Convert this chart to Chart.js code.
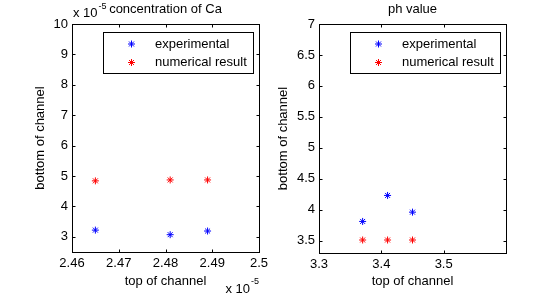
<!DOCTYPE html>
<html>
<head>
<meta charset="utf-8">
<script src="https://cdn.jsdelivr.net/npm/chart.js@4.4.0/dist/chart.umd.min.js"></script>
<style>
    html, body { margin: 0; padding: 0; background: #fff; }
    #wrap { position: relative; width: 560px; height: 294px; overflow: hidden; }
    canvas { position: absolute; top: 0; }
</style>
</head>
<body>
<div id="wrap">
    <canvas id="caChart" width="280" height="294" style="left:0"></canvas>
    <canvas id="phChart" width="300" height="294" style="left:260px"></canvas>
</div>
<script>
// left panel: concentration of Ca (both axes in units of 1e-5)
const caTop = [2.465, 2.481, 2.489];
const caExperimental = [3.22, 3.07, 3.19];
const caNumerical = [4.84, 4.87, 4.87];
const caXTicks = [2.46, 2.47, 2.48, 2.49, 2.5];
const caYTicks = [3, 4, 5, 6, 7, 8, 9, 10];

// right panel: ph value
const phTop = [3.37, 3.41, 3.45];
const phExperimental = [3.81, 4.23, 3.96];
const phNumerical = [3.51, 3.51, 3.51];
const phXTicks = [3.3, 3.4, 3.5];
const phYTicks = [3.5, 4, 4.5, 5, 5.5, 6, 6.5, 7];

const seriesNames = ['experimental', 'numerical result'];
const seriesColours = ['#0000ff', '#ff0000'];

const FONT = "'Liberation Sans', Arial, Helvetica, sans-serif";
const font13 = { family: FONT, size: 13, weight: 'normal', lineHeight: 1.2 };

function drawStar(ctx, x, y, r) {
    const d = r * Math.SQRT1_2;
    ctx.beginPath();
    ctx.moveTo(x - r, y); ctx.lineTo(x + r, y);
    ctx.moveTo(x, y - r); ctx.lineTo(x, y + r);
    ctx.moveTo(x - d, y - d); ctx.lineTo(x + d, y + d);
    ctx.moveTo(x - d, y + d); ctx.lineTo(x + d, y - d);
    ctx.stroke();
}

// MATLAB style box, inward ticks on all sides, legend inside, exponent labels
const matlabFrame = {
    id: 'matlabFrame',
    afterDatasetsDraw(chart, args, opts) {
        const { ctx, chartArea: a } = chart;
        const xs = chart.scales.x, ys = chart.scales.y;
        const L = Math.round(a.left) + 0.5, R = Math.round(a.right) + 0.5;
        const T = Math.round(a.top) + 0.5, B = Math.round(a.bottom) + 0.5;
        const tl = 3;
        ctx.save();
        ctx.strokeStyle = '#000';
        ctx.lineWidth = 1;
        ctx.strokeRect(L, T, R - L, B - T);
        ctx.beginPath();
        xs.ticks.forEach(t => {
            const px = Math.round(xs.getPixelForValue(t.value)) + 0.5;
            ctx.moveTo(px, B); ctx.lineTo(px, B - tl);
            ctx.moveTo(px, T); ctx.lineTo(px, T + tl);
        });
        ys.ticks.forEach(t => {
            const py = Math.round(ys.getPixelForValue(t.value)) + 0.5;
            ctx.moveTo(L, py); ctx.lineTo(L + tl, py);
            ctx.moveTo(R, py); ctx.lineTo(R - tl, py);
        });
        ctx.stroke();

        // legend
        ctx.font = '13px ' + FONT;
        const textW = Math.max(...seriesNames.map(s => ctx.measureText(s).width));
        const w = Math.round(51.5 + textW + 7);
        const bx = Math.round(a.right - 6 - w) + 0.5;
        const by = Math.round(a.top + 8) + 0.5;
        ctx.fillStyle = '#fff';
        ctx.fillRect(bx, by, w, 41);
        ctx.strokeRect(bx, by, w, 41);
        ctx.textBaseline = 'middle';
        ctx.textAlign = 'left';
        seriesNames.forEach((name, i) => {
            const ry = by + 11.5 + i * 18.5;
            ctx.strokeStyle = seriesColours[i];
            drawStar(ctx, bx + 28, ry, 3.5);
            ctx.fillStyle = '#000';
            ctx.fillText(name, bx + 51.5, ry);
        });

        if (opts.exponent) {
            ctx.fillStyle = '#000';
            ctx.textBaseline = 'alphabetic';
            // top-left, for the y axis
            ctx.font = '13px ' + FONT;
            ctx.textAlign = 'left';
            ctx.fillText('x 10', a.left + 1, 16.5);
            const w10 = ctx.measureText('x 10').width;
            ctx.font = '9px ' + FONT;
            ctx.fillText('-5', a.left + 1 + w10 + 1, 8.5);
            // bottom-right, for the x axis
            ctx.textAlign = 'right';
            const wExp = ctx.measureText('-5').width;
            ctx.fillText('-5', a.right, 284);
            ctx.font = '13px ' + FONT;
            ctx.fillText('x 10', a.right - wExp - 1, 292.5);
        }
        ctx.restore();
    }
};

function points(xs, ys) {
    return xs.map((v, i) => ({ x: v, y: ys[i] }));
}

function makePanel(id, p) {
    return new Chart(document.getElementById(id), {
        type: 'scatter',
        data: {
            datasets: [p.exp, p.num].map((ys, i) => ({
                label: seriesNames[i],
                data: points(p.xs, ys),
                pointStyle: 'star',
                pointRadius: 3.5,
                pointBorderWidth: 1,
                borderColor: seriesColours[i],
                backgroundColor: seriesColours[i]
            }))
        },
        options: {
            responsive: false,
            animation: false,
            layout: { padding: { left: 0, right: p.padRight, top: 0, bottom: 0 } },
            plugins: {
                legend: { display: false },
                tooltip: { enabled: false },
                title: {
                    display: true,
                    text: p.title,
                    fullSize: false,
                    color: '#000',
                    font: font13,
                    padding: { top: 2, bottom: 6.4 }
                },
                matlabFrame: { exponent: p.exponent }
            },
            scales: {
                x: {
                    type: 'linear',
                    min: p.xMin, max: p.xMax,
                    afterBuildTicks: s => { s.ticks = p.xTicks.map(v => ({ value: v })); },
                    afterFit: s => { s.height = 294 - p.bottom; },
                    grid: { display: false, drawTicks: false },
                    border: { display: false },
                    ticks: { padding: 4, color: '#000', font: font13, maxRotation: 0, autoSkip: false,
                             callback: v => String(v) },
                    title: { display: true, text: 'top of channel', color: '#000', font: font13,
                             padding: { top: 0, bottom: 5 } }
                },
                y: {
                    type: 'linear',
                    min: p.yMin, max: p.yMax,
                    afterBuildTicks: s => { s.ticks = p.yTicks.map(v => ({ value: v })); },
                    afterFit: s => { s.width = p.left; },
                    grid: { display: false, drawTicks: false },
                    border: { display: false },
                    ticks: { padding: 4, color: '#000', font: font13, autoSkip: false,
                             callback: v => String(v) },
                    title: { display: true, text: 'bottom of channel', color: '#000', font: font13,
                             padding: { top: p.yTitlePad, bottom: 0 } }
                }
            }
        },
        plugins: [matlabFrame]
    });
}

makePanel('caChart', {
    title: 'concentration of Ca', xs: caTop, exp: caExperimental, num: caNumerical,
    xTicks: caXTicks, yTicks: caYTicks, xMin: 2.46, xMax: 2.5, yMin: 2.5, yMax: 10,
    left: 72, padRight: 21, bottom: 252, yTitlePad: 32.5, exponent: true
});

makePanel('phChart', {
    title: 'ph value', xs: phTop, exp: phExperimental, num: phNumerical,
    xTicks: phXTicks, yTicks: phYTicks, xMin: 3.3, xMax: 3.6, yMin: 3.3, yMax: 7,
    left: 59, padRight: 54, bottom: 253, yTitlePad: 15.2, exponent: false
});
</script>
</body>
</html>
